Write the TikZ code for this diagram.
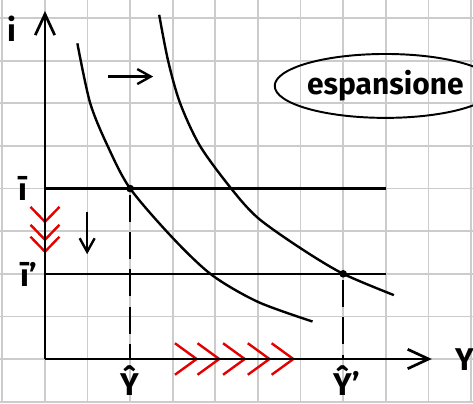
\documentclass[tikz,border=0pt]{standalone}
\usepackage{fontspec}
\setmainfont{Fira Sans}
\usetikzlibrary{arrows.meta,positioning,shapes.geometric}

\tikzset{
  gridline/.style={draw=black!20, line width=1.2pt},
  axis/.style={line width=1.8pt, -{Straight Barb[length=14pt,width=13pt]}},
  curve/.style={line width=1.6pt},
  drop/.style={line width=1.6pt, dash pattern=on 18pt off 7pt},
  chev/.style={draw=red!90!black, line width=1.6pt},
  shiftarrow/.style={line width=1.6pt, -{Straight Barb[length=9pt,width=10pt]}},
  lbl/.style={font=\fontsize{21}{24}\selectfont\bfseries, inner sep=0pt},
}

\begin{document}
\begin{tikzpicture}
  \useasboundingbox (-1.056,-1.033) rectangle (10.047,8.427);
  % squared paper
  \draw[gridline] (-1.056,-1.033) grid (10.047,8.427);

  \coordinate (O) at (0,0);
  \coordinate (ytip) at (0,8.17);
  \coordinate (xtip) at (9.08,0);
  \coordinate (E1) at (2,4);
  \coordinate (E2) at (7,2);
  \coordinate (ibar) at (0,4);
  \coordinate (ibarend) at (8,4);
  \coordinate (ibarp) at (0,2);
  \coordinate (ibarpend) at (8,2);

  % interest rate levels
  \draw[curve] (ibar) -- (ibarend);
  \draw[curve] (ibarp) -- (ibarpend);

  % the two curves, before and after the shift
  \draw[curve] plot[smooth] coordinates {(0.76,7.41) (1.06,6.01) (1.48,4.98) (2,4) (3,2.84) (3.92,1.97) (5,1.34) (6.28,0.88)};
  \draw[curve] plot[smooth] coordinates {(2.68,8.08) (2.89,7.0) (3.17,6.01) (3.64,5.0) (4.38,3.99) (5,3.31) (6,2.6) (7,2) (8.19,1.5)};

  % red chevrons
  \foreach \y in {3.22,2.8,2.52}
    \draw[chev] (-0.34,\y+0.35) -- (0,\y) -- (0.34,\y+0.35);
  \foreach \x in {3.56,4.09,4.69,5.27,5.83}
    \draw[chev] (\x-0.51,0.37) -- (\x,0) -- (\x-0.51,-0.37);

  % axes
  \draw[axis] (O) -- (ytip);
  \draw[axis] (O) -- (xtip);

  % equilibrium points and drops
  \fill (E1) circle (0.09);
  \fill (E2) circle (0.09);
  \draw[drop] ([yshift=-4pt]E1) -- (E1 |- O);
  \draw[drop] ([yshift=-4pt]E2) -- (E2 |- O);

  % shift arrows
  \coordinate (ra) at (1.48,6.63);
  \coordinate (rb) at (2.54,6.63);
  \coordinate (da) at (0.99,3.46);
  \coordinate (db) at (0.99,2.46);
  \draw[shiftarrow] (ra) -- (rb);
  \draw[shiftarrow] (da) -- (db);

  % labels
  \node[lbl] (ilab) at (-0.77,7.75) {i};
  \node[lbl, anchor=west] (ylab) at (9.62,-0.02) {Y};
  \node[lbl, anchor=base] (ibarlab) at (-0.52,3.73) {ī};
  \node[lbl, anchor=base] (ibarplab) at (-0.47,1.70) {ī\rlap{’}};
  \node[lbl, anchor=base] (yhat) at (2,-0.86) {\^{Y}};
  \node[lbl, anchor=base] (yhatp) at (7,-0.86) {\^{Y}\rlap{’}};
  \node[draw, ellipse, line width=1.3pt, minimum width=3.87cm, minimum height=1.5cm,
        inner sep=0pt, font=\fontsize{20}{24}\selectfont\bfseries] (esp) at (7.99,6.41) {espansione};
\end{tikzpicture}
\end{document}
